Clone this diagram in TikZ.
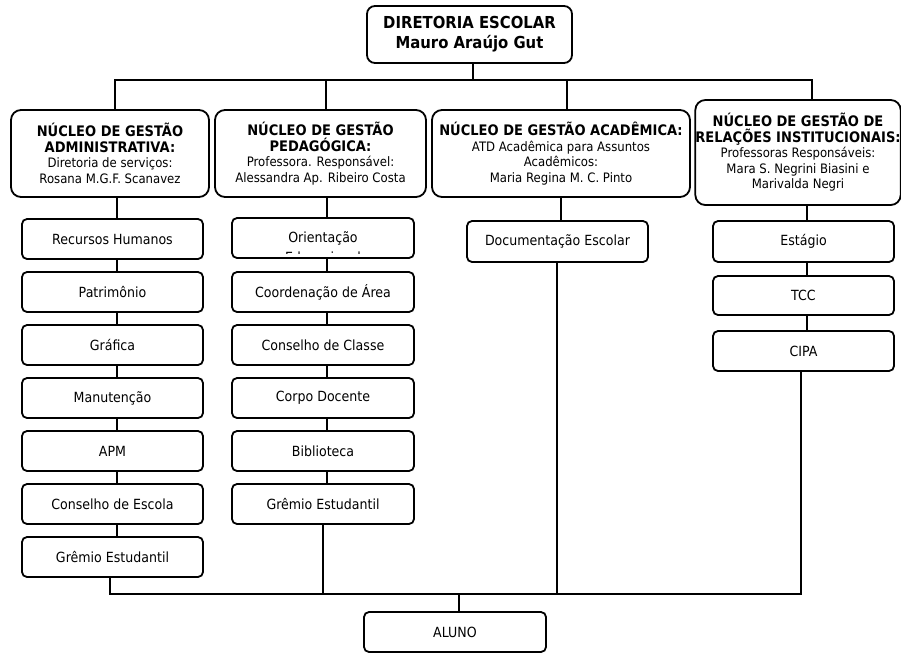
\documentclass[tikz,border=0pt]{standalone}
\usepackage{fontspec}
\setmainfont{DejaVu Sans}[FakeStretch=0.9]
\newcommand\ttlfont{\fontsize{14.5}{15.5}\selectfont\bfseries}
\newcommand\bodyfont{\fontsize{13}{15.5}\selectfont\mdseries}
\begin{document}
\begin{tikzpicture}[x=1pt,y=-1pt]
\tikzset{
  conn/.style={line width=1.8pt},
  smallbox/.style={draw, line width=1.8pt, rounded corners=5pt, minimum width=181pt, minimum height=40pt, inner sep=0pt, align=center, font=\fontsize{14}{16}\selectfont},
  bigbox/.style={draw, line width=1.8pt, rounded corners=10pt, inner sep=0pt, align=center, font=\ttlfont},
}
\useasboundingbox (0,0) rectangle (901,654);

% top
\node[bigbox, rounded corners=8pt, minimum width=205pt, minimum height=57pt, font=\fontsize{16.5}{20}\selectfont\bfseries] (top) at (469.5,34.5) {DIRETORIA ESCOLAR\\Mauro Araújo Gut};

% nucleus boxes
\node[bigbox, minimum width=198pt, minimum height=87pt] (n1) at (110,153.5)
  {NÚCLEO DE GESTÃO\\ADMINISTRATIVA:\\\bodyfont Diretoria de serviços:\\\bodyfont Rosana M.G.F. Scanavez};
\node[bigbox, minimum width=211pt, minimum height=87pt] (n2) at (320.5,153.5)
  {NÚCLEO DE GESTÃO\\PEDAGÓGICA:\\\bodyfont Professora. Responsável:\\\bodyfont Alessandra Ap. Ribeiro Costa};
\node[bigbox, minimum width=258pt, minimum height=87pt] (n3) at (561,153.5)
  {NÚCLEO DE GESTÃO ACADÊMICA:\\\bodyfont ATD Acadêmica para Assuntos\\\bodyfont Acadêmicos:\\\bodyfont Maria Regina M. C. Pinto};
\node[bigbox, minimum width=204pt, minimum height=105pt] (n4) at (798,152.5)
  {NÚCLEO DE GESTÃO DE\\RELAÇÕES INSTITUCIONAIS:\\\bodyfont Professoras Responsáveis:\\\bodyfont Mara S. Negrini Biasini e\\\bodyfont Marivalda Negri};

% column 1
\node[smallbox] (a1) at (112.5,239) {Recursos Humanos};
\node[smallbox] (a2) at (112.5,292) {Patrimônio};
\node[smallbox] (a3) at (112.5,345) {Gráfica};
\node[smallbox] (a4) at (112.5,398) {Manutenção};
\node[smallbox] (a5) at (112.5,451) {APM};
\node[smallbox] (a6) at (112.5,504) {Conselho de Escola};
\node[smallbox] (a7) at (112.5,557) {Grêmio Estudantil};

% column 2
\node[smallbox, minimum width=182pt] (p1) at (323,238) {Orientação};
\begin{scope}
  \clip (233,220) rectangle (413,253);
  \node[font=\fontsize{14}{16}\selectfont, inner sep=0pt] (p1b) at (323,257) {Educacional};
\end{scope}
\node[smallbox, minimum width=182pt] (p2) at (323,292) {Coordenação de Área};
\node[smallbox, minimum width=182pt] (p3) at (323,345) {Conselho de Classe};
\node[smallbox, minimum width=182pt] (p4) at (323,398) {Corpo Docente};
\node[smallbox, minimum width=182pt] (p5) at (323,451) {Biblioteca};
\node[smallbox, minimum width=182pt] (p6) at (323,504) {Grêmio Estudantil};

% column 3
\node[smallbox, minimum height=41pt] (d1) at (557.5,241.5) {Documentação Escolar};

% column 4
\node[smallbox, minimum height=41pt] (r1) at (803.5,241.5) {Estágio};
\node[smallbox, minimum height=39pt] (r2) at (803.5,295.5) {TCC};
\node[smallbox, minimum height=40pt] (r3) at (803.5,351) {CIPA};

% bottom
\node[smallbox, minimum width=182pt, font=\fontsize{14}{16}\selectfont] (al) at (455,632) {ALUNO};

% helper coordinates
\coordinate (tb) at (0,80);
\coordinate (bb) at (0,594);
\coordinate (X1) at (115,0);
\coordinate (X2) at (326,0);
\coordinate (X3) at (567,0);
\coordinate (X4) at (812,0);
\coordinate (C1) at (117,0);
\coordinate (C2) at (327,0);
\coordinate (C3) at (561,0);
\coordinate (C4) at (807,0);
\coordinate (B1) at (110,0);
\coordinate (B2) at (323,0);
\coordinate (B3) at (557,0);
\coordinate (B4) at (801,0);
\coordinate (B5) at (459,0);
\coordinate (TS) at (473,0);

% top connectors
\draw[conn] (top.south -| TS) -- (TS |- tb);
\draw[conn] (n1.north -| X1) -- (X1 |- tb) -- (X4 |- tb) -- (n4.north -| X4);
\draw[conn] (n2.north -| X2) -- (X2 |- tb);
\draw[conn] (n3.north -| X3) -- (X3 |- tb);

% column connectors
\draw[conn] (n1.south -| C1) -- (a1.north -| C1);
\draw[conn] (a1.south -| C1) -- (a2.north -| C1);
\draw[conn] (a2.south -| C1) -- (a3.north -| C1);
\draw[conn] (a3.south -| C1) -- (a4.north -| C1);
\draw[conn] (a4.south -| C1) -- (a5.north -| C1);
\draw[conn] (a5.south -| C1) -- (a6.north -| C1);
\draw[conn] (a6.south -| C1) -- (a7.north -| C1);

\draw[conn] (n2.south -| C2) -- (p1.north -| C2);
\draw[conn] (p1.south -| C2) -- (p2.north -| C2);
\draw[conn] (p2.south -| C2) -- (p3.north -| C2);
\draw[conn] (p3.south -| C2) -- (p4.north -| C2);
\draw[conn] (p4.south -| C2) -- (p5.north -| C2);
\draw[conn] (p5.south -| C2) -- (p6.north -| C2);

\draw[conn] (n3.south -| C3) -- (d1.north -| C3);

\draw[conn] (n4.south -| C4) -- (r1.north -| C4);
\draw[conn] (r1.south -| C4) -- (r2.north -| C4);
\draw[conn] (r2.south -| C4) -- (r3.north -| C4);

% bottom connectors
\draw[conn] (a7.south -| B1) -- (B1 |- bb) -- (B4 |- bb) -- (r3.south -| B4);
\draw[conn] (p6.south -| B2) -- (B2 |- bb);
\draw[conn] (d1.south -| B3) -- (B3 |- bb);
\draw[conn] (al.north -| B5) -- (B5 |- bb);
\end{tikzpicture}
\end{document}
